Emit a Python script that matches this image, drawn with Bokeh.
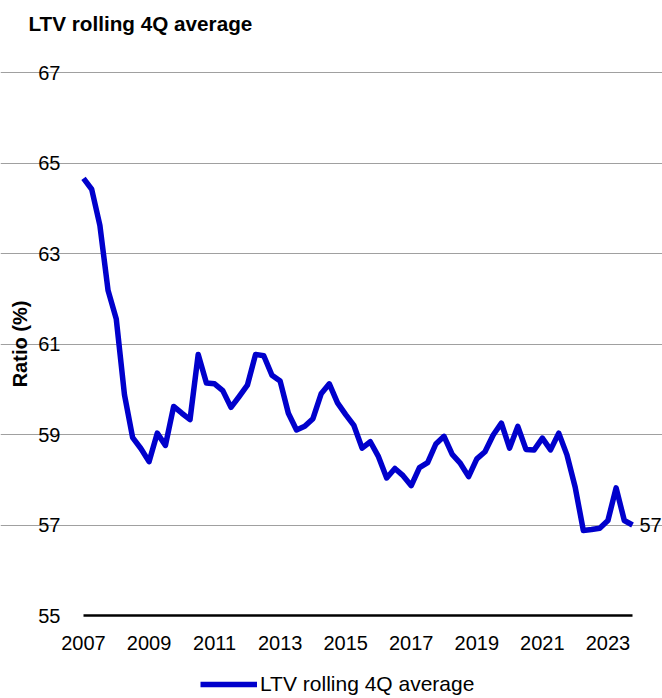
import math
from bokeh.plotting import figure
from bokeh.models import Range1d, FixedTicker, Label, Legend, LegendItem
from bokeh.embed import file_html
from bokeh.resources import INLINE

# Quarterly LTV rolling 4Q average, 2007Q1 .. 2023Q4
start_year = 2007
ltv = [64.66, 64.42, 63.62, 62.18, 61.55, 59.88, 58.93, 58.69, 58.40, 59.03,
       58.76, 59.62, 59.47, 59.33, 60.77, 60.14, 60.12, 59.97, 59.60, 59.84,
       60.09, 60.77, 60.74, 60.31, 60.18, 59.47, 59.10, 59.18, 59.35, 59.90,
       60.12, 59.70, 59.44, 59.20, 58.70, 58.84, 58.51, 58.04, 58.25, 58.09,
       57.87, 58.27, 58.38, 58.79, 58.96, 58.56, 58.36, 58.07, 58.46, 58.62,
       58.99, 59.25, 58.70, 59.18, 58.67, 58.66, 58.92, 58.66, 59.03, 58.55,
       57.84, 56.88, 56.90, 56.93, 57.10, 57.82, 57.10, 57.00]
x_ticks = [2007, 2009, 2011, 2013, 2015, 2017, 2019, 2021, 2023]
y_ticks = [55, 57, 59, 61, 63, 65, 67]
title_text = "LTV rolling 4Q average"
y_label = "Ratio (%)"
series_name = "LTV rolling 4Q average"

qx = [start_year + i / 4 for i in range(len(ltv))]

FONT = "Liberation Sans"
FS = "20px"
BLUE = "#0000CC"

W, H = 662, 698
# plot area (pixels inside the figure)
PL, PR, PT, PB = 83, 632, 72, 615
xmin, xmax = qx[0], qx[-1]
ymin, ymax = y_ticks[0], y_ticks[-1]
xpp = (xmax - xmin) / (PR - PL)
ypp = (ymax - ymin) / (PB - PT)


def px_x(px):
    return xmin + (px - PL) * xpp


def px_y(py):
    return ymax - (py - PT) * ypp


p = figure(width=W, height=H, output_backend="svg", toolbar_location=None,
           x_range=Range1d(px_x(0), px_x(W)), y_range=Range1d(px_y(H), px_y(0)),
           min_border=0, min_border_left=0, min_border_right=0,
           min_border_top=0, min_border_bottom=0)
p.outline_line_color = None
p.background_fill_color = "white"
p.border_fill_color = "white"

r = p.line(qx, ltv, line_color=BLUE, line_width=5.5, line_join="round")

# axes, drawn at fixed data positions
p.xaxis.fixed_location = ymin
p.xaxis.bounds = (xmin, xmax)
p.xaxis.ticker = FixedTicker(ticks=x_ticks)
p.xaxis.major_tick_line_color = None
p.xaxis.minor_tick_line_color = None
p.xaxis.axis_line_color = "black"
p.xaxis.axis_line_width = 2.5
p.xaxis.major_label_standoff = 14
p.xaxis.major_label_text_font = FONT
p.xaxis.major_label_text_font_size = FS
p.xaxis.major_label_text_color = "black"

p.yaxis.fixed_location = xmin
p.yaxis.bounds = (ymin, ymax)
p.yaxis.ticker = FixedTicker(ticks=y_ticks)
p.yaxis.major_tick_line_color = None
p.yaxis.minor_tick_line_color = None
p.yaxis.axis_line_color = None
p.yaxis.major_label_standoff = 17
p.yaxis.major_label_text_font = FONT
p.yaxis.major_label_text_font_size = FS
p.yaxis.major_label_text_color = "black"

p.xgrid.grid_line_color = None
p.ygrid.ticker = FixedTicker(ticks=y_ticks[1:])
p.ygrid.bounds = (xmin, xmax)
p.ygrid.grid_line_color = "#A0A0A0"
p.ygrid.grid_line_width = 1.2

title = Label(x=px_x(28), y=px_y(23), text=title_text,
              text_font=FONT, text_font_size="20.7px", text_font_style="bold",
              text_baseline="alphabetic", text_align="left", text_color="black")
p.add_layout(title)

ylab = Label(x=px_x(19), y=(ymin + ymax) / 2, text=y_label, angle=math.pi / 2,
             text_font=FONT, text_font_size=FS, text_font_style="bold",
             text_baseline="alphabetic", text_align="center", text_color="black")
p.add_layout(ylab)

end_label = Label(x=px_x(639), y=ltv[-1], text=f"{ltv[-1]:.0f}",
                  text_font=FONT, text_font_size=FS, text_baseline="middle",
                  text_align="left", text_color="black")
p.add_layout(end_label)

legend = Legend(items=[LegendItem(label=series_name, renderers=[r])],
                location=(200, 2), orientation="horizontal",
                glyph_width=57, glyph_height=20, label_standoff=3,
                padding=0, margin=0, spacing=0, label_height=20,
                label_text_font=FONT, label_text_font_size="21px",
                label_text_color="black",
                border_line_color=None, background_fill_alpha=0)
p.add_layout(legend)

open("out.html", "w").write(file_html(p, INLINE))
